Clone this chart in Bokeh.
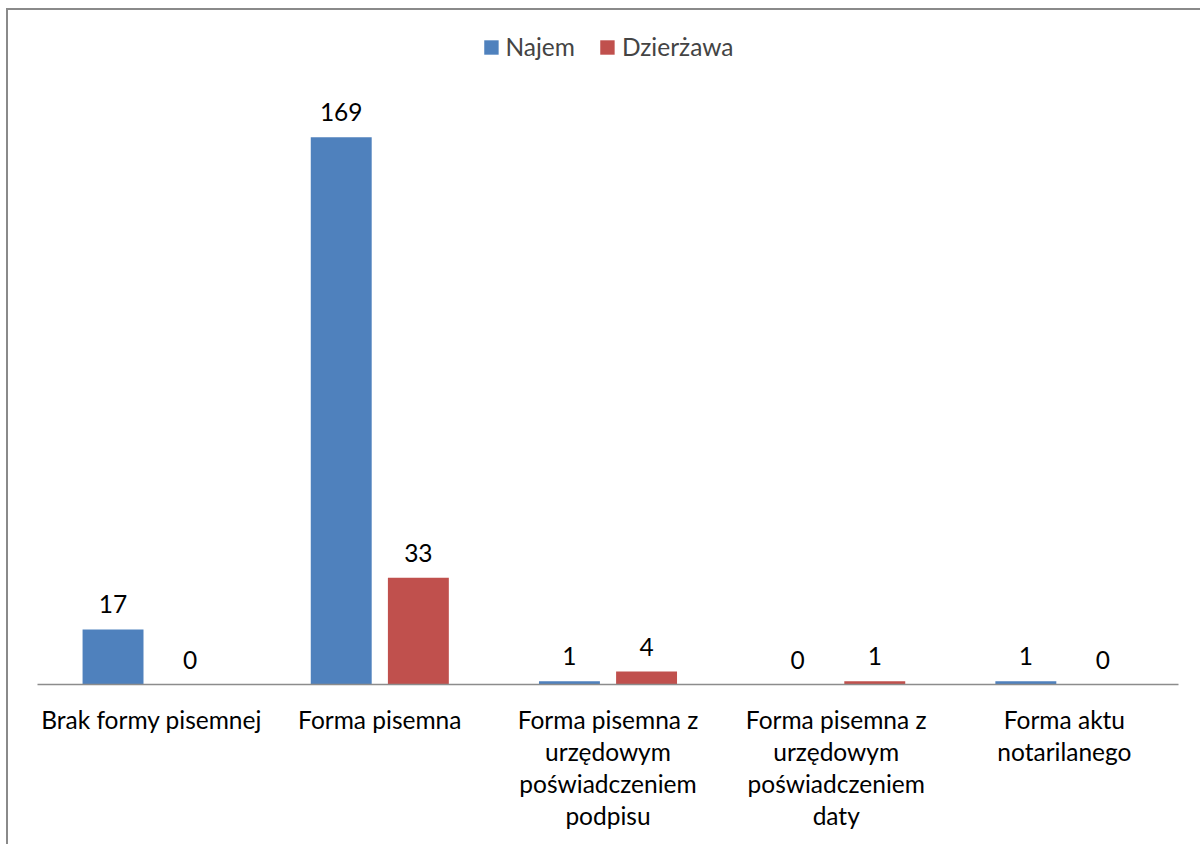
from bokeh.plotting import figure
from bokeh.models import (ColumnDataSource, FactorRange, Range1d, LabelSet,
                          Legend, LegendItem)
from bokeh.core.properties import value
from bokeh.transform import dodge
from bokeh.embed import file_html
from bokeh.resources import INLINE

categories = ["Brak formy pisemnej", "Forma pisemna",
              "Forma pisemna z\nurzędowym\npoświadczeniem\npodpisu",
              "Forma pisemna z\nurzędowym\npoświadczeniem\ndaty",
              "Forma aktu\nnotarilanego"]
najem = [17, 169, 1, 0, 1]
dzierzawa = [0, 33, 4, 1, 0]
series_names = ["Najem", "Dzierżawa"]

FONT = "Lato"
FS = "24.5px"
BLUE = "#4F81BD"
RED = "#C0504D"

# outer offset caused by margin + border (left: 6+2, top: 8+2)
OX, OY = 8, 10

src = ColumnDataSource(dict(cat=categories, najem=najem, dzierzawa=dzierzawa,
                            najem_txt=[str(v) for v in najem],
                            dz_txt=[str(v) for v in dzierzawa]))

p = figure(width=1202 - OX, height=846 - OY, x_range=FactorRange(*categories),
           y_range=Range1d(0, 205.1), output_backend="svg", toolbar_location=None,
           min_border_left=37 - OX, min_border_right=24, min_border_top=20 - OY,
           min_border_bottom=162,
           margin=(8, 0, 0, 6),
           styles={"border-left": "2px solid #8a8a8a", "border-top": "2px solid #8a8a8a"})

bw = 0.267
off = 0.169
r1 = p.vbar(x=dodge("cat", -off, range=p.x_range), top="najem", width=bw,
            source=src, fill_color=BLUE, line_color=None)
r2 = p.vbar(x=dodge("cat", off, range=p.x_range), top="dzierzawa", width=bw,
            source=src, fill_color=RED, line_color=None)

for col, txt, o in (("najem", "najem_txt", -off), ("dzierzawa", "dz_txt", off)):
    lab = LabelSet(x=dodge("cat", o, range=p.x_range), y=col, text=txt, source=src,
                   text_align="center", text_baseline="middle", y_offset=25,
                   text_font=value(FONT), text_font_size=value(FS),
                   text_color="#000000")
    p.add_layout(lab)

legend = Legend(items=[LegendItem(label=series_names[0], renderers=[r1]),
                       LegendItem(label=series_names[1], renderers=[r2])],
                location="top_center", orientation="horizontal",
                glyph_width=18, glyph_height=18, label_standoff=6, spacing=23,
                margin=12,
                label_text_font=FONT, label_text_font_size=FS,
                border_line_color=None, background_fill_alpha=0)
p.add_layout(legend)

p.yaxis.visible = False
p.grid.visible = False
p.outline_line_color = None

ax = p.xaxis[0]
ax.axis_line_color = "#8c8c8c"
ax.axis_line_width = 1.5
ax.major_tick_line_color = None
ax.minor_tick_line_color = None
ax.major_label_text_font = FONT
ax.major_label_text_font_size = FS
ax.major_label_text_color = "#000000"
ax.major_label_text_line_height = 1.11
ax.major_label_standoff = 14
ax.major_label_orientation = "horizontal"

open("out.html", "w").write(file_html(p, INLINE))
